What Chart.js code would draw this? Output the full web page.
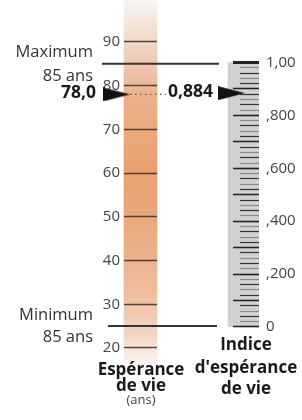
<!DOCTYPE html>
<html>
<head>
<meta charset="utf-8">
<script src="https://cdn.jsdelivr.net/npm/chart.js@4/dist/chart.umd.min.js"></script>
<style>
  html, body { margin: 0; padding: 0; background: #fff; }
  canvas { display: block; }
</style>
</head>
<body>
<canvas id="lifeChart" width="302" height="420"></canvas>
<script>
// Valeurs
const leTicks = [20, 30, 40, 50, 60, 70, 80, 90];
const idxTickValues = [0, 0.2, 0.4, 0.6, 0.8, 1];
const idxTickLabels = ['0', ',200', ',400', ',600', ',800', '1,00'];
const lifeExpectancy = 78.0;
const lifeIndex = 0.884;
const limitValues = [85, 25];
const limitLabels = [['Maximum', '85 ans'], ['Minimum', '85 ans']];
const valueLabels = ['78,0', '0,884'];
const leftTitle = ['Espérance', 'de vie', '(ans)'];
const rightTitle = ['Indice', "d'espérance", 'de vie'];

// Étendue des échelles (mise en page)
const leRange = [16.1, 99.6];
const idxRange = [-0.1437, 1.2363];

const FONT = "'Open Sans', sans-serif";
Chart.defaults.font.family = FONT;

function zeroPad(scale) {
    scale.paddingTop = 0;
    scale.paddingBottom = 0;
}

// Flèche noire pour les marqueurs
function makeArrow(w, h) {
    const c = document.createElement('canvas');
    c.width = w;
    c.height = h;
    const g = c.getContext('2d');
    g.fillStyle = '#111';
    g.beginPath();
    g.moveTo(0, 0);
    g.lineTo(w, h / 2);
    g.lineTo(0, h);
    g.closePath();
    g.fill();
    return c;
}
const arrow = makeArrow(27, 14);

function orangeGradient(context) {
    const chart = context.chart;
    const area = chart.chartArea;
    if (!area) {
        return '#e9a16e';
    }
    const g = chart.ctx.createLinearGradient(0, area.top, 0, area.bottom);
    g.addColorStop(0, '#fbf8f6');
    g.addColorStop(0.04, '#f6ebe5');
    g.addColorStop(0.13, '#f1d3c2');
    g.addColorStop(0.26, '#ecb18e');
    g.addColorStop(0.45, '#e9a16e');
    g.addColorStop(0.6, '#eaa87c');
    g.addColorStop(0.8, '#eebd9e');
    g.addColorStop(0.92, '#f3d6c6');
    g.addColorStop(1, '#fcf5f2');
    return g;
}

// Textes dessinés par-dessus le graphique
const textPlugin = {
    id: 'labels',
    afterDraw(chart) {
        const c = chart.ctx;
        const yLE = chart.scales.yLE;
        const yIdx = chart.scales.yIdx;
        c.save();
        c.textBaseline = 'middle';

        c.fillStyle = '#333';
        c.font = '16.5px ' + FONT;
        c.textAlign = 'right';
        c.fillText(limitLabels[0][0], 93, 52);
        c.fillText(limitLabels[0][1], 93, 76);
        c.fillText(limitLabels[1][0], 93, 315);
        c.fillText(limitLabels[1][1], 93, 337);

        c.fillStyle = '#1a1a1a';
        c.font = 'bold 17.5px ' + FONT;
        c.fillText(valueLabels[0], 96, yLE.getPixelForValue(lifeExpectancy) - 1);
        c.textAlign = 'left';
        c.fillText(valueLabels[1], 168, yIdx.getPixelForValue(lifeIndex) - 1);

        c.font = 'bold 17px ' + FONT;
        c.textAlign = 'center';
        c.fillText(leftTitle[0], 141, 370);
        c.fillText(leftTitle[1], 141, 386);
        c.fillText(rightTitle[0], 246, 345);
        c.fillText(rightTitle[1], 246, 368);
        c.fillText(rightTitle[2], 246, 389);
        c.fillStyle = '#444';
        c.font = '13px ' + FONT;
        c.fillText(leftTitle[2], 141, 400);
        c.restore();
    }
};

new Chart(document.getElementById('lifeChart'), {
    type: 'bar',
    data: {
        datasets: [
            {
                type: 'line',
                data: [{x: 116.5, y: lifeExpectancy}],
                yAxisID: 'yLE',
                showLine: false,
                pointStyle: arrow,
                order: 1
            },
            {
                type: 'line',
                data: [{x: 231.5, y: lifeIndex}],
                yAxisID: 'yIdx',
                showLine: false,
                pointStyle: arrow,
                order: 1
            },
            {
                type: 'line',
                data: [{x: 130, y: lifeExpectancy}, {x: 166, y: lifeExpectancy}],
                yAxisID: 'yLE',
                borderColor: '#555',
                borderWidth: 1.3,
                borderDash: [1.5, 3.5],
                pointRadius: 0,
                order: 2
            },
            {
                type: 'line',
                data: [{x: 102, y: limitValues[0]}, {x: 219, y: limitValues[0]}],
                yAxisID: 'yLE',
                borderColor: '#333',
                borderWidth: 2,
                pointRadius: 0,
                order: 2
            },
            {
                type: 'line',
                data: [{x: 108, y: limitValues[1]}, {x: 217, y: limitValues[1]}],
                yAxisID: 'yLE',
                borderColor: '#333',
                borderWidth: 2,
                pointRadius: 0,
                order: 2
            },
            {
                data: [{x: 140.5, y: leRange}],
                yAxisID: 'yLE',
                barThickness: 33,
                grouped: false,
                backgroundColor: orangeGradient,
                order: 3
            },
            {
                data: [{x: 243.5, y: [0, 1]}],
                yAxisID: 'yIdx',
                barThickness: 31,
                grouped: false,
                backgroundColor: '#d1d1d1',
                order: 3
            }
        ]
    },
    options: {
        responsive: false,
        devicePixelRatio: 1,
        animation: false,
        layout: {
            autoPadding: false,
            padding: {left: 0, right: 0, top: 0, bottom: 55}
        },
        plugins: {
            legend: {display: false},
            tooltip: {enabled: false}
        },
        scales: {
            x: {
                type: 'linear',
                min: 0,
                max: 259,
                offset: false,
                display: false
            },
            // Graduations sur la barre orange
            yLE: {
                type: 'linear',
                position: {x: 157},
                min: leRange[0],
                max: leRange[1],
                afterBuildTicks: function(scale) {
                    scale.ticks = leTicks.map(v => ({value: v}));
                },
                afterFit: zeroPad,
                ticks: {display: false},
                grid: {
                    drawOnChartArea: false,
                    tickLength: 33,
                    tickColor: 'rgba(55, 45, 40, 0.85)',
                    tickWidth: 1.5,
                    z: 1
                },
                border: {display: false}
            },
            // Étiquettes de l'espérance de vie
            yLELab: {
                type: 'linear',
                position: {x: 120},
                min: leRange[0],
                max: leRange[1],
                afterBuildTicks: function(scale) {
                    scale.ticks = leTicks.map(v => ({value: v}));
                },
                afterFit: zeroPad,
                ticks: {
                    padding: 0,
                    color: '#444',
                    font: {size: 15}
                },
                grid: {drawOnChartArea: false, drawTicks: false},
                border: {display: false}
            },
            // Petites graduations de l'indice
            yIdxMinor: {
                type: 'linear',
                position: {x: 259},
                min: idxRange[0],
                max: idxRange[1],
                afterBuildTicks: function(scale) {
                    scale.ticks = Array.from({length: 51}, (_, i) => ({value: i / 50}));
                },
                afterFit: zeroPad,
                ticks: {display: false},
                grid: {
                    drawOnChartArea: false,
                    tickLength: 19,
                    tickColor: function(ctx) {
                        return ctx.index % 2 ? '#8a8a8a' : '#333';
                    },
                    tickWidth: 1.2,
                    z: 1
                },
                border: {display: false}
            },
            // Grandes graduations de l'indice
            yIdxMajor: {
                type: 'linear',
                position: {x: 259},
                min: idxRange[0],
                max: idxRange[1],
                afterBuildTicks: function(scale) {
                    scale.ticks = Array.from({length: 11}, (_, i) => ({value: i / 10}));
                },
                afterFit: zeroPad,
                ticks: {display: false},
                grid: {
                    drawOnChartArea: false,
                    tickLength: 26,
                    tickColor: '#222',
                    tickWidth: function(ctx) {
                        return ctx.index === 10 ? 3 : 1.5;
                    },
                    z: 1
                },
                border: {display: false}
            },
            // Étiquettes de l'indice, à droite
            yIdx: {
                type: 'linear',
                position: 'right',
                min: idxRange[0],
                max: idxRange[1],
                afterBuildTicks: function(scale) {
                    scale.ticks = idxTickValues.map(v => ({value: v}));
                },
                afterFit: function(scale) {
                    scale.width = 43;
                    zeroPad(scale);
                },
                ticks: {
                    padding: 7,
                    color: '#444',
                    font: {size: 15},
                    callback: function(value, index) {
                        return idxTickLabels[index];
                    }
                },
                grid: {drawOnChartArea: false, drawTicks: false},
                border: {display: false}
            }
        }
    },
    plugins: [textPlugin]
});
</script>
</body>
</html>
